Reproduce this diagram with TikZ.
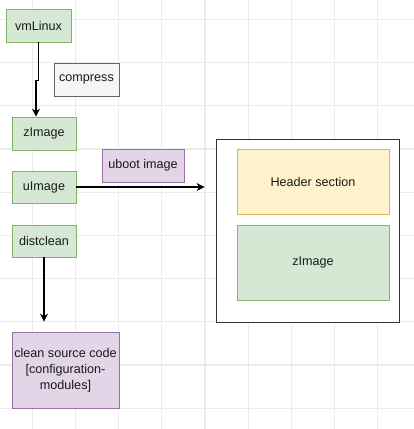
\documentclass[tikz,border=0pt]{standalone}
\usepackage{fontspec}
\setmainfont{Liberation Sans}
\usetikzlibrary{arrows.meta}
\definecolor{gridc}{HTML}{EBEBEB}
\definecolor{gfill}{HTML}{D5E8D4}
\definecolor{gdraw}{HTML}{82B366}
\definecolor{pfill}{HTML}{E1D5E7}
\definecolor{pdraw}{HTML}{9673A6}
\definecolor{yfill}{HTML}{FFF2CC}
\definecolor{ydraw}{HTML}{D6B656}
\definecolor{cfill}{HTML}{F5F5F5}
\definecolor{cdraw}{HTML}{666666}
\definecolor{txt}{HTML}{1A1A1A}
\tikzset{
  box/.style={rectangle, draw, inner sep=0pt, align=center, line width=0.9pt,
    text=txt, font=\fontsize{12.6}{15.8}\selectfont},
  green/.style={box, fill=gfill, draw=gdraw},
  purple/.style={box, fill=pfill, draw=pdraw},
  yellow/.style={box, fill=yfill, draw=ydraw},
  graybox/.style={box, fill=cfill, draw=cdraw},
  arr/.style={draw=black, line width=1.2pt, -{Stealth[length=8pt,width=8pt]}},
}
\begin{document}
\begin{tikzpicture}[x=1pt, y=-1pt]
\useasboundingbox (0,0) rectangle (414,429);
\fill[white] (0,0) rectangle (414,429);
% grid
\foreach \gx in {32.1,75.3,118.5,161.7,204.9,248.1,291.3,334.5,377.7}
  \draw[gridc, line width=1.2pt] (\gx,0) -- (\gx,429);
\foreach \gy in {19.3,62.5,105.7,148.9,192.1,235.3,278.5,321.7,364.9,408.1}
  \draw[gridc, line width=1.2pt] (0,\gy) -- (414,\gy);

% left column
\node[green, minimum width=65pt, minimum height=33pt] (vm) at (38.5,25.5) {vmLinux};
\node[graybox, minimum width=65pt, minimum height=33pt] (comp) at (86.5,79.5) {compress};
\node[green, minimum width=64pt, minimum height=33pt] (zimg) at (44,133.5) {zImage};
\node[green, minimum width=64pt, minimum height=32pt] (uimg) at (44,187) {uImage};
\node[green, minimum width=64pt, minimum height=32pt] (dc) at (44,241) {distclean};
\node[purple, minimum width=82pt, minimum height=33pt] (uboot) at (143,165.5) {uboot image};
\node[purple, minimum width=107pt, minimum height=76pt] (clean) at (65.5,370)
  {clean source code\\{[}configuration-\\modules{]}};

% container
\node[box, fill=white, draw=black!80, minimum width=183pt, minimum height=183pt] (cont) at (307.5,230.5) {};
\node[yellow, minimum width=152pt, minimum height=65pt] (hdr) at (313,181.5) {Header section};
\node[green, minimum width=152pt, minimum height=75pt] (zin) at (313,262.5) {zImage};

% connectors
\draw[arr] (vm.south) -- ++(0,38) -| ([xshift=-8pt]zimg.north);
\draw[arr, shorten >=11pt] (uimg.east) -- (uimg.east -| cont.west);
\draw[arr, shorten >=10pt] (dc.south) -- (dc.south |- clean.north);
\end{tikzpicture}
\end{document}
